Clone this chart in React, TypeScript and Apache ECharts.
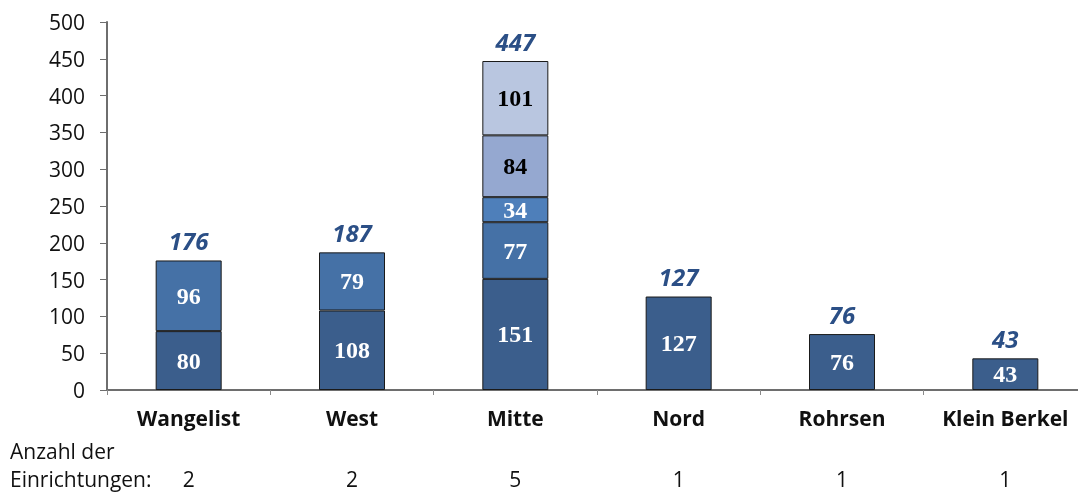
import React, { useEffect, useRef } from "react";
import * as echarts from "echarts";

const categories = ["Wangelist", "West", "Mitte", "Nord", "Rohrsen", "Klein Berkel"];
const segment1 = [80, 108, 151, 127, 76, 43];
const segment2 = [96, 79, 77, null, null, null];
const segment3 = [null, null, 34, null, null, null];
const segment4 = [null, null, 84, null, null, null];
const segment5 = [null, null, 101, null, null, null];
const totals = [176, 187, 447, 127, 76, 43];
const einrichtungen = [2, 2, 5, 1, 1, 1];
const yTicks = [0, 50, 100, 150, 200, 250, 300, 350, 400, 450, 500];

const SANS = "'Open Sans', Lato, sans-serif";
const SERIF = "'Liberation Serif', 'DejaVu Serif', serif";

export default function App() {
  const ref = useRef<HTMLDivElement>(null);
  useEffect(() => {
    document.body.style.margin = "0";
    const chart = echarts.init(ref.current!, null, { renderer: "svg" });
    const segLabel = (color: string) => ({
      show: true,
      position: "inside",
      color,
      fontFamily: SERIF,
      fontWeight: "bold",
      fontSize: 24,
      formatter: (p: any) => (p.value == null ? "" : String(p.value)),
    });
    const seg = (data: (number | null)[], color: string, labelColor: string) => ({
      type: "bar",
      stack: "total",
      data,
      barWidth: 66,
      itemStyle: { color, borderColor: "#1a1a1a", borderWidth: 1 },
      label: segLabel(labelColor),
      emphasis: { disabled: true },
    });
    chart.setOption({
      animation: false,
      grid: { left: 107, right: 0, top: 22, bottom: 103, containLabel: false },
      xAxis: [
        {
          type: "category",
          data: categories,
          axisLine: { lineStyle: { color: "#6e6e6e", width: 2 } },
          axisTick: { show: true, interval: 0, length: 5, lineStyle: { color: "#8a8a8a", width: 1 } },
          axisLabel: {
            interval: 0,
            hideOverlap: false,
            margin: 17,
            color: "#111",
            fontFamily: SANS,
            fontWeight: "bold",
            fontSize: 21,
          },
        },
        {
          type: "category",
          position: "bottom",
          data: categories,
          axisLine: { show: false },
          axisTick: { show: false },
          axisLabel: {
            interval: 0,
            margin: 78,
            color: "#111",
            fontFamily: SANS,
            fontSize: 21,
            formatter: (_v: string, i: number) => String(einrichtungen[i]),
          },
        },
      ],
      yAxis: {
        type: "value",
        min: 0,
        max: 500,
        interval: 50,
        splitLine: { show: false },
        axisLine: { show: true, lineStyle: { color: "#6e6e6e", width: 2 } },
        axisTick: { show: true, length: 7, lineStyle: { color: "#6e6e6e", width: 1 } },
        axisLabel: {
          margin: 22,
          color: "#111",
          fontFamily: SANS,
          fontSize: 21,
          formatter: (v: number) => (yTicks.includes(v) ? String(v) : ""),
        },
      },
      series: [
        seg(segment1, "#3b5e8c", "#ffffff"),
        seg(segment2, "#4571a6", "#ffffff"),
        seg(segment3, "#4e7fba", "#ffffff"),
        seg(segment4, "#95a8d0", "#000000"),
        seg(segment5, "#b9c6e0", "#000000"),
        {
          type: "bar",
          data: totals,
          barWidth: 66,
          barGap: "-100%",
          itemStyle: { color: "rgba(0,0,0,0)" },
          z: 1,
          silent: true,
          label: {
            show: true,
            position: "top",
            distance: 8,
            color: "#2b4f86",
            fontFamily: SANS,
            fontStyle: "italic",
            fontWeight: "bold",
            fontSize: 24,
          },
        },
      ],
      graphic: [
        {
          type: "text",
          left: 10,
          top: 437,
          style: {
            text: "Anzahl der\nEinrichtungen:",
            fontFamily: SANS,
            fontSize: 21,
            lineHeight: 28,
            fill: "#111",
          },
        },
      ],
    });
    return () => chart.dispose();
  }, []);
  return (
    <div style={{ position: "fixed", left: 0, top: 0, width: 1078, height: 493, overflow: "hidden" }}>
      <div ref={ref} style={{ width: 1087, height: 493 }} />
    </div>
  );
}
